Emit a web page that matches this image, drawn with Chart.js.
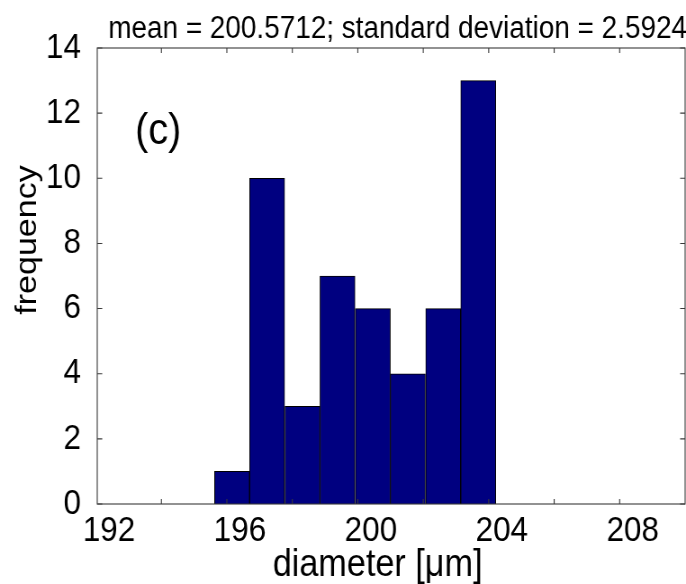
<!DOCTYPE html>
<html>
<head>
<title>Diameter histogram</title>
<script src="https://cdn.jsdelivr.net/npm/chart.js@4"></script>
<style>
    body {
        margin: 0;
        background: #fff;
    }
    canvas {
        display: block;
    }
</style>
</head>
<body>
<!-- drawn 10% wider and squeezed by css, the original figure is horizontally compressed -->
<canvas id="hist" width="762" height="584" style="width:686px;height:584px"></canvas>
<script>
// histogram bins (centres, um) and counts
const binCenters = [195.76, 196.83, 197.91, 198.98, 200.06, 201.13, 202.21, 203.28];
const frequencies = [1, 10, 3, 7, 6, 4, 6, 13];

// axes
const xRange = [191.64, 209.6];
const xTickLabels = [192, 196, 200, 204, 208];
const xTickMarks = [193.6, 195.6, 197.6, 199.6, 201.6, 203.6, 205.6, 207.6];
const yTicks = [0, 2, 4, 6, 8, 10, 12, 14];

const titleText = 'mean = 200.5712; standard deviation = 2.5924';
const panelLabel = '(c)';
const xLabel = 'diameter [\u03bcm]';
const yLabel = 'frequency';

const FONT = "'Liberation Sans', Arial, Helvetica, sans-serif";
const SQUEEZE = 0.9; // css width / canvas width

// frame, inward tick marks and the free text
const decorations = {
    id: 'decorations',
    afterDraw(chart) {
        const ctx = chart.ctx;
        const a = chart.chartArea;
        const xs = chart.scales.x;
        const ys = chart.scales.y;
        const len = 5;

        ctx.save();
        ctx.strokeStyle = '#3a3a3a';
        ctx.lineWidth = 1.1;
        ctx.strokeRect(a.left, a.top, a.right - a.left, a.bottom - a.top);

        ctx.beginPath();
        xTickMarks.forEach(v => {
            const px = xs.getPixelForValue(v);
            ctx.moveTo(px, a.bottom);
            ctx.lineTo(px, a.bottom - len);
            ctx.moveTo(px, a.top);
            ctx.lineTo(px, a.top + len);
        });
        yTicks.forEach(v => {
            const py = ys.getPixelForValue(v);
            ctx.moveTo(a.left, py);
            ctx.lineTo(a.left + len / SQUEEZE, py);
            ctx.moveTo(a.right, py);
            ctx.lineTo(a.right - len / SQUEEZE, py);
        });
        ctx.stroke();

        ctx.fillStyle = '#000';
        ctx.textBaseline = 'alphabetic';

        ctx.font = '31px ' + FONT;
        ctx.textAlign = 'center';
        ctx.fillText(titleText, 397.5 / SQUEEZE, 38);

        ctx.font = '44px ' + FONT;
        ctx.textAlign = 'left';
        ctx.fillText(panelLabel, 135 / SQUEEZE, 144);

        ctx.font = '38px ' + FONT;
        ctx.textAlign = 'center';
        ctx.fillText(xLabel, 377.5 / SQUEEZE, 576);

        ctx.translate(27.5 / SQUEEZE, 240);
        ctx.rotate(-Math.PI / 2);
        ctx.font = '34px ' + FONT;
        ctx.textBaseline = 'middle';
        ctx.fillText(yLabel, 0, 0);
        ctx.restore();
    }
};

new Chart(document.getElementById('hist'), {
    type: 'bar',
    data: {
        datasets: [{
            data: binCenters.map((x, i) => ({ x: x, y: frequencies[i] })),
            backgroundColor: '#000080',
            borderColor: '#000000',
            borderWidth: 1,
            barPercentage: 1,
            categoryPercentage: 1
        }]
    },
    options: {
        responsive: false,
        animation: false,
        devicePixelRatio: 1,
        layout: {
            padding: { top: 48, right: 1, left: 0, bottom: 0 }
        },
        plugins: {
            legend: { display: false },
            tooltip: { enabled: false }
        },
        scales: {
            x: {
                type: 'linear',
                offset: false,
                min: xRange[0],
                max: xRange[1],
                afterBuildTicks: scale => {
                    scale.ticks = xTickLabels.map(v => ({ value: v }));
                },
                afterFit: scale => { scale.height = 80; },
                grid: { display: false },
                border: { display: false },
                ticks: {
                    autoSkip: false,
                    maxRotation: 0,
                    padding: -2,
                    color: '#000',
                    font: { family: FONT, size: 35 },
                    callback: v => String(v)
                }
            },
            y: {
                min: 0,
                max: 14,
                afterBuildTicks: scale => {
                    scale.ticks = yTicks.map(v => ({ value: v }));
                },
                afterFit: scale => { scale.width = 108; },
                grid: { display: false },
                border: { display: false },
                ticks: {
                    padding: 10,
                    color: '#000',
                    font: { family: FONT, size: 35 }
                }
            }
        }
    },
    plugins: [decorations]
});
</script>
</body>
</html>
